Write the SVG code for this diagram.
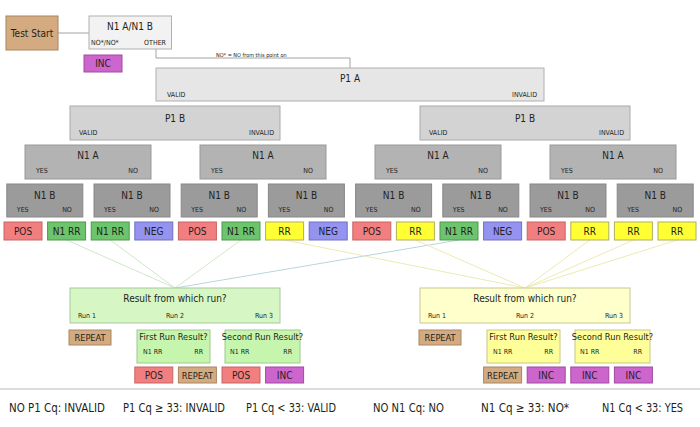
<svg xmlns="http://www.w3.org/2000/svg" width="700" height="427" viewBox="0 0 700 427">
<style>
text{font-family:"Liberation Sans Narrow","DejaVu Sans Condensed","Liberation Sans",Arial,sans-serif;fill:#231f20}
.t{font-size:10px;text-anchor:middle}
.q{font-size:9.2px;text-anchor:middle}
.s{font-size:7px}
.e{text-anchor:end}
.m{text-anchor:middle}
.lf{font-size:10px;text-anchor:middle}
.ft{font-size:12px}
.g0{fill:#f2f2f2;stroke:#b0b0b0;stroke-width:1}
.g1{fill:#e6e6e6;stroke:#b0b0b0;stroke-width:1}
.g2{fill:#d3d3d3;stroke:#aaa;stroke-width:1}
.g3{fill:#b3b3b3;stroke:#999;stroke-width:1}
.g4{fill:#9b9b9b;stroke:#888;stroke-width:1}
.pos{fill:#f27f7f;stroke:#c86464;stroke-width:1}
.rrn{fill:#6cc46c;stroke:#4e9a4e;stroke-width:1}
.neg{fill:#9494f0;stroke:#7070c0;stroke-width:1}
.rr{fill:#ffff33;stroke:#b0b060;stroke-width:1}
.inc{fill:#cc66cc;stroke:#a04aa0;stroke-width:1}
.rep{fill:#d4ab80;stroke:#a88660;stroke-width:1}
.resg{fill:#d6f7c4;stroke:#a8c8a0;stroke-width:1}
.subg{fill:#c6f5ae;stroke:#a0c890;stroke-width:1}
.resy{fill:#ffffcc;stroke:#c8c896;stroke-width:1}
.suby{fill:#ffff99;stroke:#c8c880;stroke-width:1}
.cl{fill:none;stroke:#9a9a9a;stroke-width:0.9}
.cg{stroke:#cfe8c8;stroke-width:1}
.cb{stroke:#b8d6dc;stroke-width:1}
.cy{stroke:#ecebb0;stroke-width:1}
</style>

<g id="connectors">
<line class="cl" x1="58" y1="33" x2="89" y2="33"/>
<polyline class="cl" points="156,49 156,58 350,58 350,68"/>
<text class="s" x="216" y="56.5" style="font-size:5.5px">NO* = NO from this point on</text>
<line class="cg" x1="66.6" y1="240" x2="175" y2="288"/>
<line class="cg" x1="110.2" y1="240" x2="175" y2="288"/>
<line class="cg" x1="241" y1="240" x2="175" y2="288"/>
<line class="cb" x1="459" y1="240" x2="175" y2="288"/>
<line class="cy" x1="284.6" y1="240" x2="525" y2="288"/>
<line class="cy" x1="415.4" y1="240" x2="525" y2="288"/>
<line class="cy" x1="589.8" y1="240" x2="525" y2="288"/>
<line class="cy" x1="633.4" y1="240" x2="525" y2="288"/>
<line class="cy" x1="677" y1="240" x2="525" y2="288"/>
</g>

<g id="test-start"><rect class="rep" x="6" y="16" width="52" height="34"/><text class="t" x="32" y="36.5">Test Start</text></g>
<g id="n1a-n1b"><rect class="g0" x="89" y="16" width="82.5" height="33"/><text class="t" x="130" y="30">N1 A/N1 B</text><text class="s" x="91" y="45">NO*/NO*</text><text class="s e" x="166" y="45">OTHER</text></g>
<g id="inc-top"><rect class="inc" x="84" y="55" width="38" height="17"/><text class="lf" x="103" y="67">INC</text></g>

<g id="p1a"><rect class="g1" x="156" y="68" width="388" height="33"/><text class="t" x="350" y="82">P1 A</text><text class="s" x="167" y="97">VALID</text><text class="s e" x="537" y="97">INVALID</text></g>

<g id="p1b-l"><rect class="g2" x="70" y="106" width="210" height="34"/><text class="t" x="175" y="121.5">P1 B</text><text class="s" x="79" y="135">VALID</text><text class="s e" x="274" y="135">INVALID</text></g>
<g id="p1b-r"><rect class="g2" x="420" y="106" width="210" height="34"/><text class="t" x="525" y="121.5">P1 B</text><text class="s" x="429" y="135">VALID</text><text class="s e" x="624" y="135">INVALID</text></g>

<g id="n1a-1"><rect class="g3" x="25" y="145" width="126" height="34"/><text class="t" x="88" y="158.5">N1 A</text><text class="s" x="36" y="173">YES</text><text class="s e" x="138" y="173">NO</text></g>
<g id="n1a-2"><rect class="g3" x="200" y="145" width="126" height="34"/><text class="t" x="263" y="158.5">N1 A</text><text class="s" x="211" y="173">YES</text><text class="s e" x="313" y="173">NO</text></g>
<g id="n1a-3"><rect class="g3" x="375" y="145" width="126" height="34"/><text class="t" x="438" y="158.5">N1 A</text><text class="s" x="386" y="173">YES</text><text class="s e" x="488" y="173">NO</text></g>
<g id="n1a-4"><rect class="g3" x="550" y="145" width="126" height="34"/><text class="t" x="613" y="158.5">N1 A</text><text class="s" x="561" y="173">YES</text><text class="s e" x="663" y="173">NO</text></g>

<g id="n1b-1"><rect class="g4" x="6.8" y="184" width="76" height="33"/><text class="t" x="44.8" y="198.5">N1 B</text><text class="s" x="16.8" y="212">YES</text><text class="s e" x="71.8" y="212">NO</text></g>
<g id="n1b-2"><rect class="g4" x="94" y="184" width="76" height="33"/><text class="t" x="132" y="198.5">N1 B</text><text class="s" x="104" y="212">YES</text><text class="s e" x="159" y="212">NO</text></g>
<g id="n1b-3"><rect class="g4" x="181.2" y="184" width="76" height="33"/><text class="t" x="219.2" y="198.5">N1 B</text><text class="s" x="191.2" y="212">YES</text><text class="s e" x="246.2" y="212">NO</text></g>
<g id="n1b-4"><rect class="g4" x="268.4" y="184" width="76" height="33"/><text class="t" x="306.4" y="198.5">N1 B</text><text class="s" x="278.4" y="212">YES</text><text class="s e" x="333.4" y="212">NO</text></g>
<g id="n1b-5"><rect class="g4" x="355.6" y="184" width="76" height="33"/><text class="t" x="393.6" y="198.5">N1 B</text><text class="s" x="365.6" y="212">YES</text><text class="s e" x="420.6" y="212">NO</text></g>
<g id="n1b-6"><rect class="g4" x="442.8" y="184" width="76" height="33"/><text class="t" x="480.8" y="198.5">N1 B</text><text class="s" x="452.8" y="212">YES</text><text class="s e" x="507.8" y="212">NO</text></g>
<g id="n1b-7"><rect class="g4" x="530" y="184" width="76" height="33"/><text class="t" x="568" y="198.5">N1 B</text><text class="s" x="540" y="212">YES</text><text class="s e" x="595" y="212">NO</text></g>
<g id="n1b-8"><rect class="g4" x="617.2" y="184" width="76" height="33"/><text class="t" x="655.2" y="198.5">N1 B</text><text class="s" x="627.2" y="212">YES</text><text class="s e" x="682.2" y="212">NO</text></g>

<g id="leaf-1"><rect class="pos" x="4" y="222" width="38" height="18"/><text class="lf" x="23" y="235">POS</text></g>
<g id="leaf-2"><rect class="rrn" x="47.6" y="222" width="38" height="18"/><text class="lf" x="66.6" y="235">N1 RR</text></g>
<g id="leaf-3"><rect class="rrn" x="91.2" y="222" width="38" height="18"/><text class="lf" x="110.2" y="235">N1 RR</text></g>
<g id="leaf-4"><rect class="neg" x="134.8" y="222" width="38" height="18"/><text class="lf" x="153.8" y="235">NEG</text></g>
<g id="leaf-5"><rect class="pos" x="178.4" y="222" width="38" height="18"/><text class="lf" x="197.4" y="235">POS</text></g>
<g id="leaf-6"><rect class="rrn" x="222" y="222" width="38" height="18"/><text class="lf" x="241" y="235">N1 RR</text></g>
<g id="leaf-7"><rect class="rr" x="265.6" y="222" width="38" height="18"/><text class="lf" x="284.6" y="235">RR</text></g>
<g id="leaf-8"><rect class="neg" x="309.2" y="222" width="38" height="18"/><text class="lf" x="328.2" y="235">NEG</text></g>
<g id="leaf-9"><rect class="pos" x="352.8" y="222" width="38" height="18"/><text class="lf" x="371.8" y="235">POS</text></g>
<g id="leaf-10"><rect class="rr" x="396.4" y="222" width="38" height="18"/><text class="lf" x="415.4" y="235">RR</text></g>
<g id="leaf-11"><rect class="rrn" x="440" y="222" width="38" height="18"/><text class="lf" x="459" y="235">N1 RR</text></g>
<g id="leaf-12"><rect class="neg" x="483.6" y="222" width="38" height="18"/><text class="lf" x="502.6" y="235">NEG</text></g>
<g id="leaf-13"><rect class="pos" x="527.2" y="222" width="38" height="18"/><text class="lf" x="546.2" y="235">POS</text></g>
<g id="leaf-14"><rect class="rr" x="570.8" y="222" width="38" height="18"/><text class="lf" x="589.8" y="235">RR</text></g>
<g id="leaf-15"><rect class="rr" x="614.4" y="222" width="38" height="18"/><text class="lf" x="633.4" y="235">RR</text></g>
<g id="leaf-16"><rect class="rr" x="658" y="222" width="38" height="18"/><text class="lf" x="677" y="235">RR</text></g>

<g id="result-l"><rect class="resg" x="70" y="288" width="210" height="35"/><text class="t" x="175" y="302">Result from which run?</text><text class="s" x="78" y="318">Run 1</text><text class="s m" x="175" y="318">Run 2</text><text class="s e" x="273" y="318">Run 3</text></g>
<g id="repeat-l"><rect class="rep" x="69" y="330" width="42" height="15"/><text class="q" x="90" y="341">REPEAT</text></g>
<g id="first-l"><rect class="subg" x="137" y="330" width="73" height="33"/><text class="q" x="173.5" y="340">First Run Result?</text><text class="s" x="143" y="354">N1 RR</text><text class="s e" x="203" y="354">RR</text></g>
<g id="second-l"><rect class="subg" x="225" y="330" width="75" height="33"/><text class="q" x="262.5" y="340">Second Run Result?</text><text class="s" x="230" y="354">N1 RR</text><text class="s e" x="292" y="354">RR</text></g>
<g id="out-l1"><rect class="pos" x="134.8" y="367" width="38" height="16"/><text class="lf" x="153.8" y="379">POS</text></g>
<g id="out-l2"><rect class="rep" x="178.4" y="367" width="38" height="16"/><text class="q" x="197.4" y="379">REPEAT</text></g>
<g id="out-l3"><rect class="pos" x="222" y="367" width="38" height="16"/><text class="lf" x="241" y="379">POS</text></g>
<g id="out-l4"><rect class="inc" x="265.6" y="367" width="38" height="16"/><text class="lf" x="284.6" y="379">INC</text></g>

<g id="result-r"><rect class="resy" x="420" y="288" width="210" height="35"/><text class="t" x="525" y="302">Result from which run?</text><text class="s" x="428" y="318">Run 1</text><text class="s m" x="525" y="318">Run 2</text><text class="s e" x="623" y="318">Run 3</text></g>
<g id="repeat-r"><rect class="rep" x="419" y="330" width="42" height="15"/><text class="q" x="440" y="341">REPEAT</text></g>
<g id="first-r"><rect class="suby" x="487" y="330" width="73" height="33"/><text class="q" x="523.5" y="340">First Run Result?</text><text class="s" x="493" y="354">N1 RR</text><text class="s e" x="553" y="354">RR</text></g>
<g id="second-r"><rect class="suby" x="575" y="330" width="75" height="33"/><text class="q" x="612.5" y="340">Second Run Result?</text><text class="s" x="580" y="354">N1 RR</text><text class="s e" x="642" y="354">RR</text></g>
<g id="out-r1"><rect class="rep" x="483.6" y="367" width="38" height="16"/><text class="q" x="502.6" y="379">REPEAT</text></g>
<g id="out-r2"><rect class="inc" x="527.2" y="367" width="38" height="16"/><text class="lf" x="546.2" y="379">INC</text></g>
<g id="out-r3"><rect class="inc" x="570.8" y="367" width="38" height="16"/><text class="lf" x="589.8" y="379">INC</text></g>
<g id="out-r4"><rect class="inc" x="614.4" y="367" width="38" height="16"/><text class="lf" x="633.4" y="379">INC</text></g>

<g id="legend">
<rect x="0" y="388" width="700" height="2" fill="#dcdcdc"/>
<text class="ft" x="9" y="412" textLength="96" lengthAdjust="spacingAndGlyphs">NO P1 Cq: INVALID</text>
<text class="ft" x="123" y="412" textLength="102" lengthAdjust="spacingAndGlyphs">P1 Cq ≥ 33: INVALID</text>
<text class="ft" x="246" y="412" textLength="90" lengthAdjust="spacingAndGlyphs">P1 Cq &lt; 33: VALID</text>
<text class="ft" x="373" y="412" textLength="71" lengthAdjust="spacingAndGlyphs">NO N1 Cq: NO</text>
<text class="ft" x="481" y="412" textLength="88" lengthAdjust="spacingAndGlyphs">N1 Cq ≥ 33: NO*</text>
<text class="ft" x="602" y="412" textLength="81" lengthAdjust="spacingAndGlyphs">N1 Cq &lt; 33: YES</text>
</g>
</svg>
